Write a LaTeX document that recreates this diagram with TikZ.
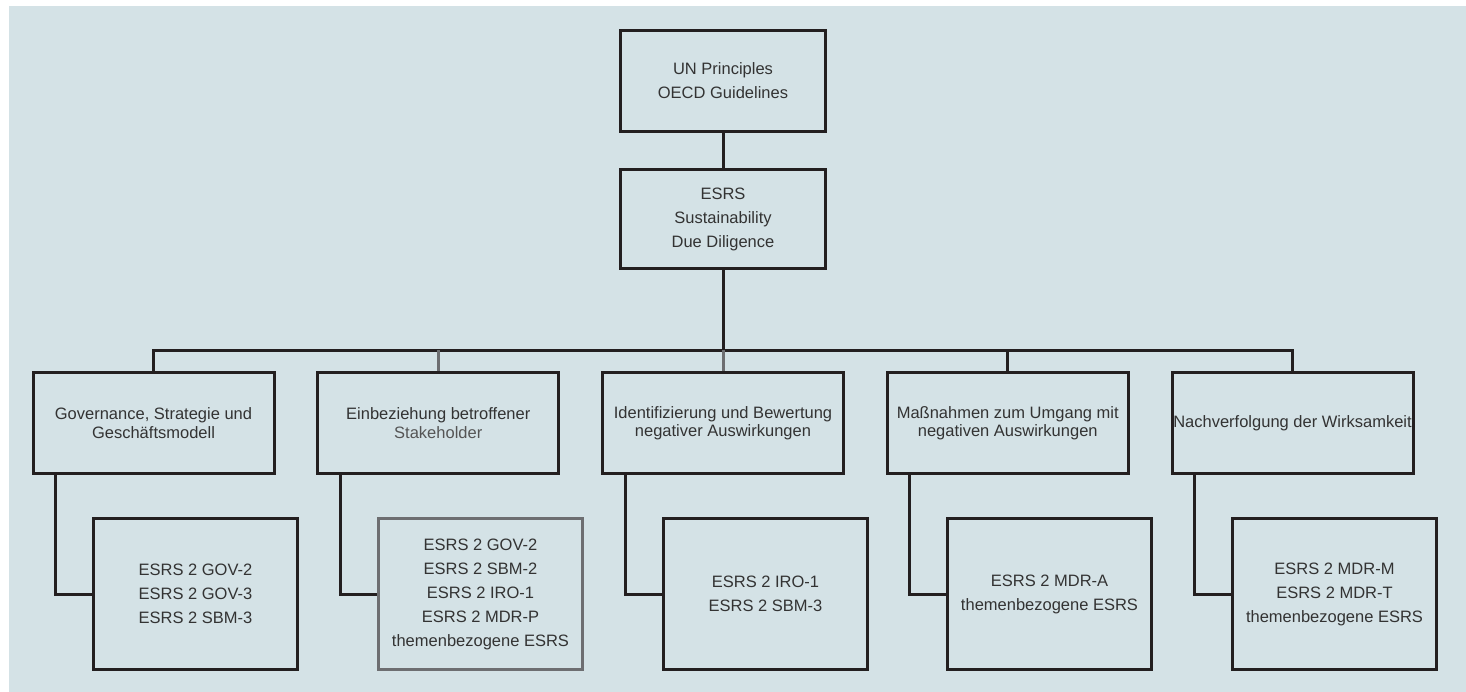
\documentclass[tikz,border=0pt]{standalone}
\usepackage{fontspec}
\setmainfont{Liberation Sans}
\definecolor{bgblue}{HTML}{D4E2E6}
\definecolor{linedark}{HTML}{231F20}
\definecolor{linegray}{HTML}{6D6E71}
\definecolor{textdark}{HTML}{333333}
\definecolor{textgray}{HTML}{555555}

\begin{document}
\begin{tikzpicture}[x=1pt,y=-1pt,
    box/.style={draw=linedark, line width=3pt, align=center, text=textdark,
      inner sep=0pt, font=\fontsize{16.5}{24}\selectfont},
    headbox/.style={box, minimum width=205pt, minimum height=101pt},
    areabox/.style={box, minimum width=241pt, minimum height=101pt,
      font=\fontsize{16.5}{18.5}\selectfont},
    refbox/.style={box, minimum width=204pt, minimum height=151pt},
    link/.style={draw=linedark, line width=3pt}]
    % Background
    \useasboundingbox (0,0) rectangle (1466,692);
    \fill [bgblue] (9,6) rectangle (1466,692);
    % Top boxes
    \node [headbox] (un) at (723,81) {UN Principles\\OECD Guidelines};
    \node [headbox, minimum height=99pt] (esrs) at (723,219) {ESRS\\Sustainability\\Due Diligence};
    % Areas
    \node [areabox] (gov) at (153.5,423) {Governance, Strategie und\\Geschäftsmodell};
    \node [areabox] (stake) at (438.25,423) {Einbeziehung betroffener\\{\color{textgray}Stakeholder}};
    \node [areabox] (ident) at (723,423) {Identifizierung und Bewertung\\negativer Auswirkungen};
    \node [areabox] (massn) at (1007.75,423) {Maßnahmen zum Umgang mit\\negativen Auswirkungen};
    \node [areabox] (track) at (1292.5,423) {Nachverfolgung der Wirksamkeit};
    % Disclosure requirements
    \node [refbox] (govref) at (195.5,594) {ESRS 2 GOV-2\\ESRS 2 GOV-3\\ESRS 2 SBM-3};
    \node [refbox, draw=linegray] (stakeref) at (480.5,594) {ESRS 2 GOV-2\\ESRS 2 SBM-2\\ESRS 2 IRO-1\\ESRS 2 MDR-P\\themenbezogene ESRS};
    \node [refbox] (identref) at (765.5,594) {ESRS 2 IRO-1\\ESRS 2 SBM-3};
    \node [refbox] (massnref) at (1049.5,594) {ESRS 2 MDR-A\\themenbezogene ESRS};
    \node [refbox] (trackref) at (1334.5,594) {ESRS 2 MDR-M\\ESRS 2 MDR-T\\themenbezogene ESRS};
    % Tree lines
    \coordinate (bus) at (723,350);
    \draw [link] (un) -- (esrs);
    \draw [link] (esrs) -- (bus);
    \draw [link] (gov.north) |- (bus) -| (track.north);
    \draw [link, draw=linegray] (stake.north) -- (stake.north |- bus);
    \draw [link, draw=linegray] (ident.north) -- (ident.north |- bus);
    \draw [link] (massn.north) -- (massn.north |- bus);
    % Side links down to the references
    \draw [link] ([xshift=24pt]gov.south west) |- (govref.west);
    \draw [link] ([xshift=24pt]stake.south west) |- (stakeref.west);
    \draw [link] ([xshift=24pt]ident.south west) |- (identref.west);
    \draw [link] ([xshift=24pt]massn.south west) |- (massnref.west);
    \draw [link] ([xshift=24pt]track.south west) |- (trackref.west);
\end{tikzpicture}
\end{document}
